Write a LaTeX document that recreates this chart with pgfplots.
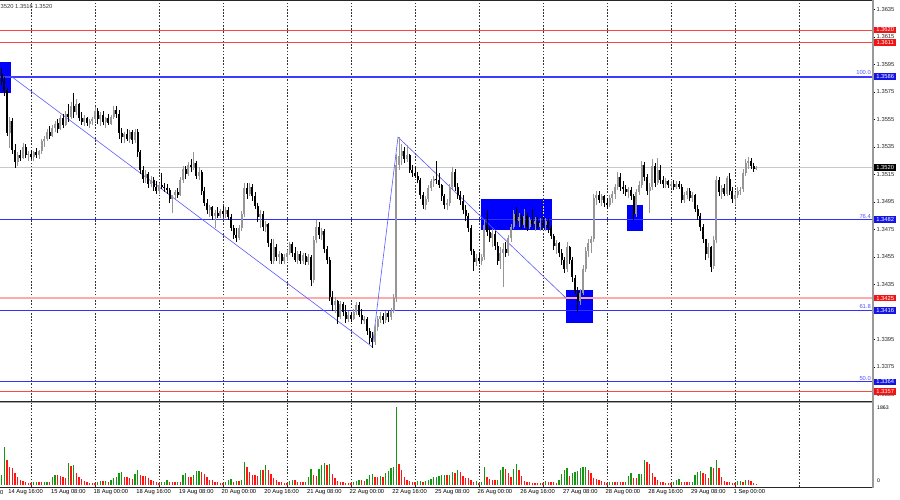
\documentclass[border=0pt]{standalone}
\usepackage{pgfplots}
\pgfplotsset{compat=1.18}
\usepackage{pgfplotstable}
\usepackage{fontspec}
\setmainfont{Liberation Sans}
\definecolor{bullc}{RGB}{150,150,150}
\definecolor{levblue}{RGB}{60,60,255}
\definecolor{thinblue}{RGB}{50,50,255}
\definecolor{trendblue}{RGB}{90,90,255}
\definecolor{levred}{RGB}{255,70,70}
\definecolor{levpink}{RGB}{255,170,170}
\definecolor{bidgray}{RGB}{200,200,200}
\definecolor{boxblue}{RGB}{0,0,255}
\definecolor{volgreen}{RGB}{20,150,20}
\definecolor{volred}{RGB}{255,20,20}
\definecolor{lblred}{RGB}{240,20,20}
\definecolor{lblblue}{RGB}{20,20,230}
\definecolor{fibtext}{RGB}{80,80,255}
\newcommand\lbl{\fontsize{5.8}{6.5}\selectfont}

\pgfplotstableread{
i o h l c v
1 13588 13592 13580 13583 240
2 13583 13586 13572 13576 910
3 13576 13578 13543 13545 600
4 13545 13557 13534 13554 430
5 13554 13556 13530 13533 410
6 13533 13537 13520 13524 290
7 13524 13531 13521 13529 200
8 13529 13533 13525 13527 120
9 13527 13538 13526 13535 90
10 13535 13537 13527 13529 70
11 13529 13532 13525 13530 50
12 13530 13533 13526 13528 40
13 13528 13532 13525 13531 60
14 13531 13534 13527 13529 70
15 13529 13533 13526 13532 70
16 13532 13541 13530 13539 60
17 13539 13543 13535 13541 70
18 13541 13548 13539 13546 80
19 13546 13550 13541 13543 70
20 13543 13551 13542 13549 190
21 13549 13554 13546 13552 240
22 13552 13555 13545 13548 230
23 13548 13558 13547 13556 210
24 13556 13559 13549 13551 190
25 13551 13561 13550 13559 160
26 13559 13566 13553 13557 530
27 13557 13568 13555 13565 450
28 13565 13574 13556 13560 480
29 13560 13570 13558 13566 290
30 13566 13567 13554 13556 200
31 13556 13560 13551 13553 150
32 13553 13558 13550 13556 100
33 13556 13557 13550 13552 70
34 13552 13555 13549 13554 50
35 13554 13557 13551 13555 40
36 13555 13564 13553 13561 40
37 13561 13563 13552 13555 80
38 13555 13560 13550 13558 100
39 13558 13561 13551 13553 90
40 13553 13557 13549 13556 100
41 13556 13559 13551 13552 80
42 13552 13558 13551 13557 120
43 13557 13565 13555 13562 160
44 13562 13565 13556 13559 200
45 13559 13562 13541 13545 290
46 13545 13549 13538 13542 310
47 13542 13546 13538 13544 200
48 13544 13548 13539 13541 180
49 13541 13547 13538 13546 160
50 13546 13547 13537 13540 140
51 13540 13548 13538 13546 260
52 13546 13548 13528 13531 360
53 13531 13533 13515 13518 250
54 13518 13521 13509 13512 220
55 13512 13518 13509 13515 210
56 13515 13517 13505 13508 170
57 13508 13514 13506 13511 120
58 13511 13513 13503 13506 90
59 13506 13510 13501 13503 70
60 13503 13509 13501 13507 50
61 13507 13516 13504 13506 70
62 13506 13509 13502 13505 80
63 13505 13508 13501 13504 120
64 13504 13505 13494 13497 80
65 13497 13499 13487 13500 70
66 13500 13504 13497 13502 70
67 13502 13505 13498 13500 80
68 13500 13513 13499 13511 60
69 13511 13521 13509 13519 240
70 13519 13521 13512 13515 290
71 13515 13524 13514 13522 200
72 13522 13526 13517 13520 190
73 13520 13531 13518 13523 240
74 13523 13525 13512 13514 330
75 13514 13520 13511 13517 340
76 13517 13518 13500 13503 310
77 13503 13506 13492 13494 260
78 13494 13497 13486 13489 200
79 13489 13493 13484 13491 130
80 13491 13492 13482 13485 110
81 13485 13489 13476 13487 80
82 13487 13491 13483 13485 60
83 13485 13490 13483 13488 40
84 13488 13492 13484 13486 40
85 13486 13491 13483 13489 80
86 13489 13491 13482 13484 120
87 13484 13486 13474 13476 150
88 13476 13478 13468 13471 80
89 13471 13476 13466 13469 100
90 13469 13478 13467 13476 90
91 13476 13488 13474 13486 110
92 13486 13509 13484 13505 550
93 13505 13509 13497 13501 430
94 13501 13509 13499 13506 320
95 13506 13508 13496 13499 240
96 13499 13502 13490 13492 240
97 13492 13494 13480 13484 220
98 13484 13489 13476 13486 360
99 13486 13488 13474 13477 360
100 13477 13481 13473 13479 480
101 13479 13480 13462 13465 360
102 13465 13468 13450 13452 260
103 13452 13468 13450 13462 170
104 13462 13464 13452 13455 110
105 13455 13459 13450 13457 80
106 13457 13458 13450 13452 60
107 13452 13457 13450 13455 40
108 13455 13460 13452 13458 40
109 13458 13466 13456 13464 90
110 13464 13466 13455 13458 120
111 13458 13462 13451 13453 110
112 13453 13459 13450 13457 80
113 13457 13459 13450 13452 70
114 13452 13458 13450 13456 70
115 13456 13458 13449 13451 80
116 13451 13457 13449 13455 190
117 13455 13456 13434 13438 390
118 13438 13470 13436 13467 240
119 13467 13482 13465 13477 220
120 13477 13480 13468 13471 380
121 13471 13476 13467 13474 480
122 13474 13475 13458 13461 520
123 13461 13463 13450 13453 480
124 13453 13455 13423 13426 510
125 13426 13430 13416 13420 270
126 13420 13426 13414 13423 170
127 13423 13424 13406 13411 100
128 13411 13423 13410 13421 80
129 13421 13422 13412 13415 60
130 13415 13420 13407 13410 50
131 13410 13416 13408 13413 40
132 13413 13415 13408 13410 40
133 13410 13417 13409 13415 70
134 13415 13422 13413 13420 90
135 13420 13422 13411 13413 120
136 13413 13417 13406 13409 110
137 13409 13412 13406 13410 100
138 13410 13411 13398 13401 140
139 13401 13403 13392 13396 240
140 13396 13400 13389 13393 260
141 13393 13406 13391 13404 200
142 13404 13412 13401 13410 190
143 13410 13415 13407 13412 220
144 13412 13414 13406 13409 200
145 13409 13416 13407 13414 290
146 13414 13416 13408 13411 340
147 13411 13418 13409 13416 410
148 13416 13428 13414 13425 420
149 13425 13530 13422 13522 1863
150 13522 13542 13518 13528 500
151 13528 13537 13522 13532 360
152 13532 13535 13523 13526 200
153 13526 13536 13524 13529 120
154 13529 13530 13516 13518 90
155 13518 13522 13513 13516 80
156 13516 13520 13512 13514 70
157 13514 13517 13509 13511 90
158 13511 13512 13497 13500 100
159 13500 13502 13490 13493 70
160 13493 13499 13489 13497 100
161 13497 13507 13495 13505 130
162 13505 13512 13503 13510 150
163 13510 13514 13506 13512 180
164 13512 13525 13508 13511 200
165 13511 13516 13505 13507 210
166 13507 13508 13496 13499 240
167 13499 13501 13490 13493 250
168 13493 13497 13489 13494 230
169 13494 13508 13492 13506 250
170 13506 13520 13504 13517 300
171 13517 13519 13503 13506 290
172 13506 13509 13497 13500 360
173 13500 13503 13493 13496 320
174 13496 13500 13486 13489 220
175 13489 13493 13481 13485 170
176 13485 13487 13473 13476 160
177 13476 13478 13456 13459 130
178 13459 13461 13445 13451 80
179 13451 13457 13448 13454 100
180 13454 13458 13450 13452 50
181 13452 13457 13449 13455 60
182 13455 13482 13453 13478 430
183 13478 13489 13470 13473 180
184 13473 13477 13466 13469 150
185 13469 13475 13462 13472 130
186 13472 13474 13460 13463 120
187 13463 13466 13449 13452 130
188 13452 13462 13446 13458 360
189 13458 13465 13433 13461 430
190 13461 13466 13455 13458 380
191 13458 13471 13456 13469 280
192 13469 13479 13466 13477 200
193 13477 13489 13475 13486 380
194 13486 13491 13478 13481 500
195 13481 13487 13477 13484 360
196 13484 13486 13475 13478 220
197 13478 13490 13476 13485 100
198 13485 13487 13474 13477 80
199 13477 13484 13475 13482 60
200 13482 13490 13477 13479 50
201 13479 13484 13474 13481 40
202 13481 13484 13475 13477 40
203 13477 13483 13474 13480 50
204 13480 13484 13476 13478 50
205 13478 13483 13474 13481 100
206 13481 13483 13472 13476 80
207 13476 13478 13468 13470 70
208 13470 13472 13460 13463 60
209 13463 13467 13457 13465 50
210 13465 13466 13455 13458 130
211 13458 13461 13449 13453 260
212 13453 13455 13443 13446 360
213 13446 13466 13444 13462 400
214 13462 13463 13450 13453 220
215 13453 13455 13437 13440 290
216 13440 13442 13428 13430 310
217 13430 13433 13415 13423 340
218 13423 13432 13420 13429 400
219 13429 13449 13427 13446 430
220 13446 13462 13444 13459 440
221 13459 13468 13455 13465 360
222 13465 13470 13458 13468 290
223 13468 13501 13466 13498 160
224 13498 13503 13493 13500 140
225 13500 13503 13494 13496 120
226 13496 13501 13492 13499 90
227 13499 13500 13491 13494 70
228 13494 13498 13490 13493 50
229 13493 13500 13491 13498 60
230 13498 13503 13494 13501 80
231 13501 13508 13497 13506 70
232 13506 13517 13504 13513 70
233 13513 13516 13503 13506 60
234 13506 13510 13501 13504 60
235 13504 13507 13499 13502 70
236 13502 13506 13498 13504 210
237 13504 13506 13496 13499 290
238 13499 13501 13482 13486 170
239 13486 13504 13484 13502 160
240 13502 13510 13500 13507 260
241 13507 13525 13505 13522 270
242 13522 13524 13510 13513 600
243 13513 13515 13500 13503 550
244 13503 13509 13487 13506 500
245 13506 13526 13504 13521 290
246 13521 13523 13506 13509 200
247 13509 13527 13507 13518 120
248 13518 13522 13508 13511 80
249 13511 13514 13505 13508 60
250 13508 13512 13505 13510 50
251 13510 13511 13505 13507 40
252 13507 13510 13505 13508 40
253 13508 13511 13504 13506 70
254 13506 13510 13504 13508 120
255 13508 13510 13504 13506 150
256 13506 13508 13494 13496 80
257 13496 13502 13494 13500 70
258 13500 13505 13497 13503 70
259 13503 13505 13496 13498 60
260 13498 13502 13495 13500 80
261 13500 13501 13488 13490 240
262 13490 13493 13482 13485 320
263 13485 13487 13474 13477 340
264 13477 13479 13465 13468 290
265 13468 13468 13453 13457 260
266 13457 13465 13454 13462 170
267 13462 13463 13444 13448 430
268 13448 13470 13446 13467 400
269 13467 13514 13465 13511 600
270 13511 13513 13499 13502 400
271 13502 13507 13497 13505 200
272 13505 13508 13499 13501 100
273 13501 13514 13499 13512 80
274 13512 13516 13500 13503 70
275 13503 13506 13494 13497 50
276 13497 13502 13493 13500 40
277 13500 13506 13498 13503 90
278 13503 13506 13500 13504 100
279 13504 13519 13502 13516 80
280 13516 13526 13514 13523 120
281 13523 13528 13519 13525 120
282 13525 13527 13519 13521 100
283 13521 13523 13517 13519 50
284 13519 13521 13518 13520 20
}\data

\pgfplotstablecreatecol[create col/assign/.code={%
  \getthisrow{v}{\vcur}%
  \ifnum\pgfplotstablerow=0 \def\gval{1}%
  \else
    \getprevrow{v}{\vprev}%
    \ifnum\vcur>\vprev\relax \def\gval{1}\else\def\gval{0}\fi
  \fi
  \pgfkeyslet{/pgfplots/table/create col/next content}\gval}]{g}{\data}

\begin{document}
\begin{tikzpicture}
\path[use as bounding box] (0pt,0pt) rectangle (900pt,-500pt);

% ---------------- main price panel ----------------
\begin{axis}[
  at={(0pt,-401pt)}, anchor=south west,
  scale only axis, width=872pt, height=399.5pt,
  xmin=0, xmax=872, ymin=13350.13, ymax=13640.67,
  clip=false,
  axis line style={draw=none},
  xtick={31,95,159,223,287,351,415,479,543,607,671,735,799},
  xticklabels={}, xtick style={draw=none},
  xmajorgrids,
  major grid style={black!80, line width=0.5pt, dash pattern=on 1.6pt off 1.6pt},
  ytick={13355,13375,13395,13415,13435,13455,13475,13495,13515,13535,13555,13575,13595,13615,13635},
  yticklabels={1.3355,1.3375,1.3395,1.3415,1.3435,1.3455,1.3475,1.3495,1.3515,1.3535,1.3555,1.3575,1.3595,1.3615,1.3635},
  ytick pos=right, yticklabel pos=right,
  ytick style={black, line width=0.5pt},
  tick align=outside, major tick length=3pt,
  yticklabel style={font=\lbl, text=black!85, inner sep=1.5pt},
]
% rectangles (behind candles)
\fill[boxblue] (axis cs:0,13574.1) rectangle (axis cs:11.3,13596.7);
\fill[boxblue] (axis cs:480.7,13474.5) rectangle (axis cs:552.3,13497.0);
\fill[boxblue] (axis cs:566,13406.7) rectangle (axis cs:592.7,13430.9);
\fill[boxblue] (axis cs:627.3,13474.0) rectangle (axis cs:643.3,13492.7);
\draw[yellow, line width=0.5pt, dash pattern=on 1.6pt off 1.6pt] (axis cs:543,13474.5) -- (axis cs:543,13497.0);

% horizontal levels
\draw[levred, line width=0.8pt] (axis cs:0,13620) -- (axis cs:872,13620);
\draw[levred, line width=0.8pt] (axis cs:0,13611) -- (axis cs:872,13611);
\draw[levblue, line width=1.8pt] (axis cs:0,13586) -- (axis cs:872,13586);
\draw[bidgray, line width=0.8pt] (axis cs:0,13520) -- (axis cs:872,13520);
\draw[thinblue, line width=1pt] (axis cs:0,13482) -- (axis cs:872,13482);
\draw[levpink, line width=1.8pt] (axis cs:0,13425) -- (axis cs:872,13425);
\draw[thinblue, line width=1pt] (axis cs:0,13416) -- (axis cs:872,13416);
\draw[thinblue, line width=1pt] (axis cs:0,13364) -- (axis cs:872,13364);
\draw[levred, line width=0.8pt] (axis cs:0,13357) -- (axis cs:872,13357);

% trend lines
\draw[trendblue, line width=0.6pt] (axis cs:11.7,13586) -- (axis cs:372.3,13389.5) -- (axis cs:398,13542) -- (axis cs:566,13425);

% candles: bullish (gray)
\addplot[forget plot, draw=none, mark=none,
  restrict expr to domain={\thisrow{c}-\thisrow{o}}{0:1000},
  error bars/.cd, y dir=both, y explicit, error mark=none,
  error bar style={draw=bullc, line width=0.8pt, solid}]
  table[x expr=\thisrow{i}*2.6667-1, y expr=(\thisrow{h}+\thisrow{l})/2, y error expr=(\thisrow{h}-\thisrow{l})/2]{\data};
\addplot[forget plot, draw=none, mark=none,
  restrict expr to domain={\thisrow{c}-\thisrow{o}}{0:1000},
  error bars/.cd, y dir=both, y explicit, error mark=none,
  error bar style={draw=bullc, line width=1.9pt, solid}]
  table[x expr=\thisrow{i}*2.6667-1, y expr=(\thisrow{o}+\thisrow{c})/2, y error expr=(\thisrow{c}-\thisrow{o})/2]{\data};
% candles: bearish (black)
\addplot[forget plot, draw=none, mark=none,
  restrict expr to domain={\thisrow{c}-\thisrow{o}}{-1000:-0.5},
  error bars/.cd, y dir=both, y explicit, error mark=none,
  error bar style={draw=black, line width=0.8pt, solid}]
  table[x expr=\thisrow{i}*2.6667-1, y expr=(\thisrow{h}+\thisrow{l})/2, y error expr=(\thisrow{h}-\thisrow{l})/2]{\data};
\addplot[forget plot, draw=none, mark=none,
  restrict expr to domain={\thisrow{c}-\thisrow{o}}{-1000:-0.5},
  error bars/.cd, y dir=both, y explicit, error mark=none,
  error bar style={draw=black, line width=1.9pt, solid}]
  table[x expr=\thisrow{i}*2.6667-1, y expr=(\thisrow{o}+\thisrow{c})/2, y error expr=(\thisrow{o}-\thisrow{c})/2]{\data};

% fib labels
\node[anchor=south east, inner sep=0pt, font=\lbl, text=fibtext] at (axis cs:871,13587.6) {100.0};
\node[anchor=south east, inner sep=0pt, font=\lbl, text=fibtext] at (axis cs:871,13483.0) {76.4};
\node[anchor=south east, inner sep=0pt, font=\lbl, text=fibtext] at (axis cs:871,13417.5) {61.8};
\node[anchor=south east, inner sep=0pt, font=\lbl, text=fibtext] at (axis cs:871,13365.0) {50.0};

% price label boxes on the right scale
\tikzset{pl/.style={anchor=west, inner sep=0pt, minimum width=22pt, minimum height=6.6pt, font=\lbl, text=white}}
\node[pl, fill=lblred] at (axis cs:874,13620) {1.3620};
\node[pl, fill=lblred] at (axis cs:874,13611) {1.3611};
\node[pl, fill=lblblue] at (axis cs:874,13586) {1.3586};
\node[pl, fill=black] at (axis cs:874,13520) {1.3520};
\node[pl, fill=lblblue] at (axis cs:874,13482) {1.3482};
\node[pl, fill=lblred] at (axis cs:874,13425) {1.3425};
\node[pl, fill=lblblue] at (axis cs:874,13416) {1.3416};
\node[pl, fill=lblblue] at (axis cs:874,13364) {1.3364};
\node[pl, fill=lblred] at (axis cs:874,13357) {1.3357};
\end{axis}

% ---------------- volume panel ----------------
\begin{axis}[
  at={(0pt,-486.7pt)}, anchor=south west,
  scale only axis, width=872pt, height=83.7pt,
  xmin=0, xmax=872, ymin=-40.6, ymax=1959.8,
  clip=false,
  axis line style={draw=none},
  xtick={31,95,159,223,287,351,415,479,543,607,671,735,799},
  xticklabels={}, xtick style={draw=none},
  ytick=\empty,
  xmajorgrids,
  major grid style={black!80, line width=0.5pt, dash pattern=on 1.6pt off 1.6pt},
]
\addplot[ycomb, volgreen, line width=1.6pt, mark=none, forget plot,
  restrict expr to domain={\thisrow{g}}{0.5:1.5}]
  table[x expr=\thisrow{i}*2.6667-1, y=v]{\data};
\addplot[ycomb, volred, line width=1.6pt, mark=none, forget plot,
  restrict expr to domain={\thisrow{g}}{-0.5:0.5}]
  table[x expr=\thisrow{i}*2.6667-1, y=v]{\data};
\end{axis}

% ---------------- frame ----------------
\draw[black!85, line width=1pt] (0pt,-0.5pt) -- (872pt,-0.5pt);
\draw[black!85, line width=1pt] (0pt,-401.2pt) -- (872pt,-401.2pt);
\draw[gray!70, line width=1.5pt] (0pt,-402.7pt) -- (872pt,-402.7pt);
\draw[black!85, line width=1pt] (0pt,-487pt) -- (873pt,-487pt);
\draw[gray!80, line width=2pt] (872.7pt,0pt) -- (872.7pt,-487.5pt);

% volume scale labels
\node[anchor=west, inner sep=0pt, font=\fontsize{5.2}{6}\selectfont] at (877pt,-408pt) {1863};
\node[anchor=west, inner sep=0pt, font=\fontsize{5.2}{6}\selectfont] at (877pt,-481pt) {0};

% info text top-left
\node[anchor=west, inner sep=0pt, font=\lbl, text=black!80] at (0.5pt,-6.2pt) {3520 1.3516 1.3520};

% time labels
\node[anchor=west, inner sep=0pt, font=\lbl] at (0pt,-492.3pt) {0};
\foreach \xx/\ttt in {9.67/14 Aug 16:00, 52.33/15 Aug 08:00, 95/18 Aug 00:00, 137.67/18 Aug 16:00,
  180.33/19 Aug 08:00, 223/20 Aug 00:00, 265.67/20 Aug 16:00, 308.33/21 Aug 08:00,
  351/22 Aug 00:00, 393.67/22 Aug 16:00, 436.33/25 Aug 08:00, 479/26 Aug 00:00,
  521.67/26 Aug 16:00, 564.33/27 Aug 08:00, 607/28 Aug 00:00, 649.67/28 Aug 16:00,
  692.33/29 Aug 08:00, 735/1 Sep 00:00}{
  \node[anchor=west, inner sep=0pt, font=\lbl] at (\xx pt-1.5pt,-492.3pt) {\ttt};
}
\end{tikzpicture}
\end{document}
